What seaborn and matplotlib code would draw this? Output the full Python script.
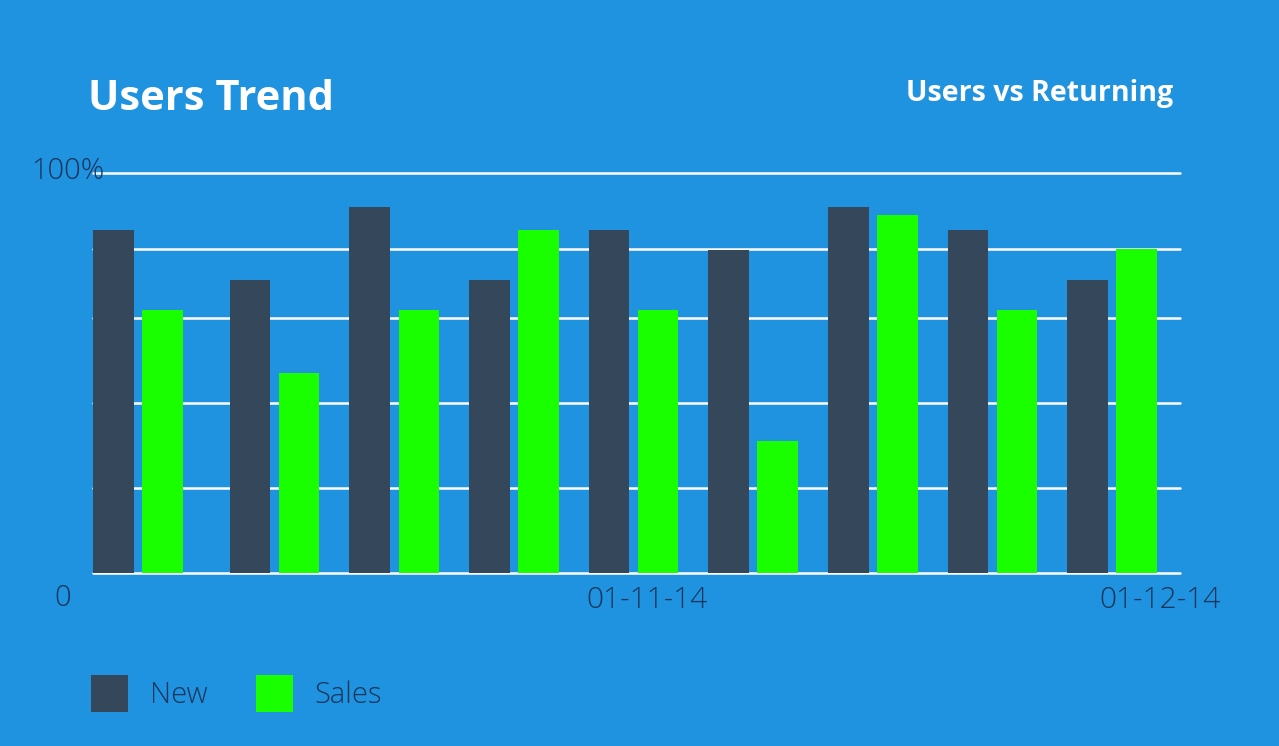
import pandas as pd
import numpy as np
import matplotlib
matplotlib.use('Agg')
import matplotlib.pyplot as plt
import matplotlib.dates as mdates
import matplotlib.transforms as mtransforms
from matplotlib.patches import Patch
import seaborn as sns

# weekly points (first gap is 8 days in the picture)
dates = ['2014-10-02', '2014-10-10', '2014-10-17', '2014-10-24', '2014-10-31',
         '2014-11-07', '2014-11-14', '2014-11-21', '2014-11-28']
new_users = [85.75, 73.25, 91.5, 73.25, 85.75, 80.75, 91.5, 85.75, 73.25]
sales = [65.75, 50, 65.75, 85.75, 65.75, 33, 89.5, 65.75, 81]
series_names = ['New', 'Sales']
grid_levels = [0, 21.25, 42.5, 63.75, 81, 100]
tick_dates = ['2014-11-01', '2014-12-01']

bg = '#1f92e0'
dark = '#34475b'
green = '#1aff00'
text_dark = '#17365a'

sns.set_style('white')
plt.rcParams['font.family'] = ['Open Sans', 'DejaVu Sans']

day_num = mdates.date2num(pd.to_datetime(dates))
df = pd.DataFrame({
    'day': np.concatenate([day_num, day_num]),
    'value': new_users + sales,
    'series': [series_names[0]] * len(dates) + [series_names[1]] * len(dates),
})

fig = plt.figure(figsize=(12.79, 7.46), dpi=100, facecolor=bg)
ax = fig.add_axes([93 / 1279, (746 - 573.3) / 746, 1087 / 1279, 400 / 746])
ax.set_facecolor(bg)

sns.barplot(data=df, x='day', y='value', hue='series', native_scale=True,
            width=0.82, gap=0.173, palette=[dark, green], errorbar=None,
            saturation=1, legend=False, ax=ax, zorder=2, linewidth=0, edgecolor='none')

# white horizontal guide lines behind the bars
for lvl in grid_levels:
    ax.axhline(lvl, color='white', lw=1.8, zorder=1, clip_on=False)

ax.set_ylim(0, 100)
first = mdates.date2num(pd.Timestamp(dates[0]))
last_tick = mdates.date2num(pd.Timestamp(tick_dates[-1]))
ax.set_xlim(first - 2.63, last_tick + 0.98)

ax.set_xticks(mdates.date2num(pd.to_datetime(tick_dates)))
ax.xaxis.set_major_formatter(mdates.DateFormatter('%d-%m-%y'))
ax.tick_params(axis='x', length=0, pad=9, labelsize=21.5, labelcolor=text_dark)
# labels sit a few px left of the tick in the original
shift = mtransforms.ScaledTranslation(-3.5 / 100, 0, fig.dpi_scale_trans)
for lab in ax.get_xticklabels():
    lab.set_fontweight('light')
    lab.set_transform(lab.get_transform() + shift)
ax.set_yticks([])
ax.set_xlabel('')
ax.set_ylabel('')
for s in ax.spines.values():
    s.set_visible(False)

trans = mtransforms.blended_transform_factory(ax.transAxes, ax.transData)
ax.text(0.011, 100.5, '100%', transform=trans, ha='right', va='center',
        fontsize=21, color=text_dark, fontweight='light', zorder=3)
ax.text(-0.0276, -6.2, '0', transform=trans, ha='center', va='center',
        fontsize=21, color=text_dark, fontweight='light', clip_on=False)

fig.text(88 / 1279, 1 - 110 / 746, 'Users Trend', ha='left', va='baseline',
         fontsize=30, fontweight='bold', color='white')
fig.text(1173 / 1279, 1 - 101 / 746, 'Users vs Returning', ha='right', va='baseline',
         fontsize=20.5, fontweight='bold', color='white')

handles = [Patch(facecolor=dark, edgecolor='none'), Patch(facecolor=green, edgecolor='none')]
leg = fig.legend(handles, series_names, loc='center left',
                 bbox_to_anchor=(91 / 1279, 1 - 693.5 / 746), ncol=2, frameon=False,
                 fontsize=21, handlelength=1.27, handleheight=1.56,
                 handletextpad=0.75, columnspacing=1.65, borderpad=0, borderaxespad=0,
                 labelcolor=text_dark)
for t in leg.get_texts():
    t.set_fontweight('light')

fig.savefig('out.png', dpi=100, facecolor=bg)
